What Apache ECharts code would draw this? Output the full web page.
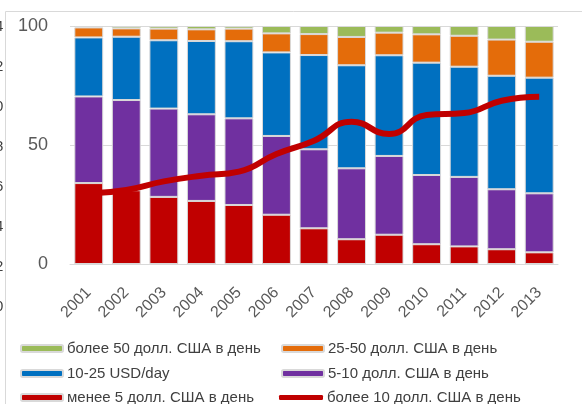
<!DOCTYPE html>
<html>
<head>
<meta charset="utf-8">
<script src="https://cdn.jsdelivr.net/npm/echarts@6/dist/echarts.min.js"></script>
<style>
    html, body { margin: 0; padding: 0; background: #fff; }
    #chart { width: 582px; height: 404px; }
</style>
</head>
<body>
<div id="chart"></div>
<script>
// годы
var years = ['2001', '2002', '2003', '2004', '2005', '2006', '2007',
    '2008', '2009', '2010', '2011', '2012', '2013'];

// доли населения по уровню дохода, %
var under5 = [34.0, 31.0, 28.2, 26.5, 24.8, 20.7, 15.0, 10.4, 12.3, 8.3, 7.4, 6.2, 4.9];
var from5to10 = [36.4, 37.9, 37.1, 36.4, 36.4, 33.1, 33.2, 29.8, 33.1, 29.1, 29.2, 25.2, 24.8];
var from10to25 = [24.8, 26.6, 28.7, 30.8, 32.4, 35.1, 39.6, 43.3, 42.3, 47.2, 46.3, 47.7, 48.6];
var from25to50 = [4.2, 3.5, 4.9, 4.9, 5.3, 8.0, 8.8, 11.9, 9.5, 11.9, 13.0, 15.2, 15.1];
var over50 = [0.6, 1.0, 1.1, 1.4, 1.1, 3.1, 3.4, 4.6, 2.8, 3.5, 4.1, 5.7, 6.6];
var over10 = [29.6, 31.1, 34.7, 37.1, 38.8, 46.2, 51.8, 59.8, 54.6, 62.6, 63.4, 68.6, 70.3];

// обрезанные подписи соседнего графика слева
var cutLabels = ['4', '2', '0', '8', '6', '4', '2', '0'];

var font = 'Liberation Sans';
var textColor = '#595959';
var gridColor = '#d9d9d9';

function barSeries(name, data, color) {
    return {
        name: name,
        type: 'bar',
        stack: 'total',
        barCategoryGap: '23%',
        data: data,
        itemStyle: {
            color: color,
            borderColor: gridColor,
            borderWidth: 1
        }
    };
}

var graphics = [
    {type: 'line', shape: {x1: 5.5, y1: 11.5, x2: 582, y2: 11.5}, style: {stroke: gridColor, lineWidth: 1}},
    {type: 'line', shape: {x1: 5.5, y1: 11.5, x2: 5.5, y2: 404}, style: {stroke: gridColor, lineWidth: 1}}
];
cutLabels.forEach(function (t, i) {
    graphics.push({
        type: 'text',
        left: -5,
        top: 19 + i * 40,
        style: {text: t, font: '15px ' + font, fill: '#404040'}
    });
});

// легенда: две колонки по три строки
var legendItems = [
    ['более 50 долл. США в день', 15, 336],
    ['25-50 долл. США в день', 276, 336],
    ['10-25 USD/day', 15, 361],
    ['5-10 долл. США в день', 276, 361],
    ['менее 5 долл. США в день', 15, 385],
    ['более 10 долл. США в день', 274, 385]
];
var legends = legendItems.map(function (it) {
    var isLine = it[0] === 'более 10 долл. США в день';
    return {
        left: it[1],
        top: it[2],
        itemWidth: isLine ? 44 : 42,
        itemHeight: isLine ? 5 : 7,
        itemGap: 0,
        textStyle: {fontFamily: font, fontSize: 15, color: '#404040', padding: [0, 0, 0, -1]},
        data: [isLine ? {name: it[0], icon: 'roundRect'} : it[0]]
    };
});

var option = {
    animation: false,
    graphic: graphics,
    legend: legends,
    grid: {left: 70, right: 24, top: 26, bottom: 140},
    xAxis: {
        type: 'category',
        data: years,
        axisLine: {lineStyle: {color: gridColor}},
        axisTick: {show: false},
        axisLabel: {
            rotate: 45,
            margin: 26,
            fontFamily: font,
            fontSize: 16,
            color: textColor
        }
    },
    yAxis: {
        type: 'value',
        min: 0,
        max: 100,
        interval: 50,
        axisLine: {show: false},
        axisTick: {show: false},
        splitLine: {lineStyle: {color: gridColor}},
        axisLabel: {
            margin: 22,
            fontFamily: font,
            fontSize: 18,
            color: textColor
        }
    },
    series: [
        barSeries('менее 5 долл. США в день', under5, '#C00000'),
        barSeries('5-10 долл. США в день', from5to10, '#7030A0'),
        barSeries('10-25 USD/day', from10to25, '#0070C0'),
        barSeries('25-50 долл. США в день', from25to50, '#E46C0A'),
        barSeries('более 50 долл. США в день', over50, '#9BBB59'),
        {
            name: 'более 10 долл. США в день',
            type: 'line',
            smooth: true,
            symbol: 'none',
            data: over10,
            z: 5,
            lineStyle: {color: '#C00000', width: 6},
            itemStyle: {color: '#C00000'}
        }
    ]
};

var myChart = echarts.init(document.getElementById('chart'));
myChart.setOption(option);
</script>
</body>
</html>
